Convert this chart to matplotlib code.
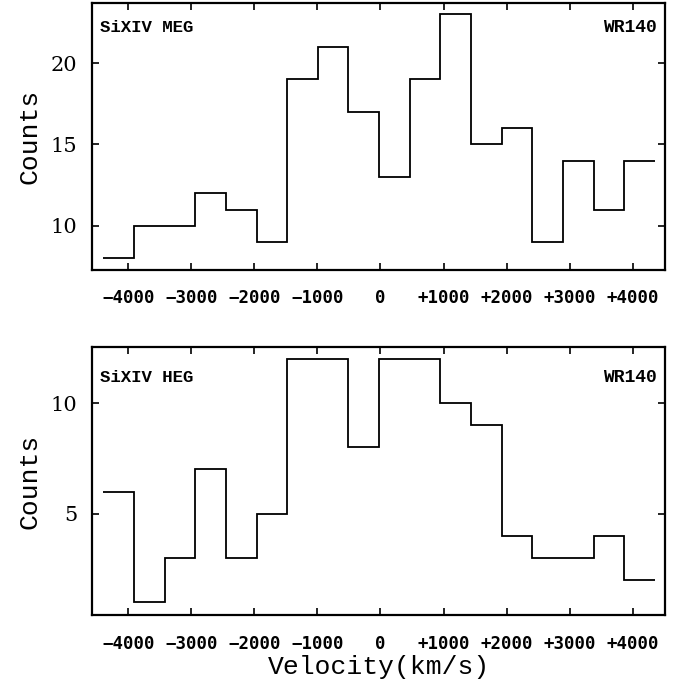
"""Si XIV line profiles of WR140 (MEG and HEG) as step histograms."""

import matplotlib

matplotlib.use("Agg")
import matplotlib.pyplot as plt

# bin edges in km/s
bin_edges = [-4396, -3910, -3424, -2938, -2452, -1966, -1480, -994, -508, -22,
             464, 950, 1436, 1922, 2408, 2894, 3380, 3866, 4352]
meg_counts = [8, 10, 10, 12, 11, 9, 19, 21, 17, 13, 19, 23, 15, 16, 9, 14, 11, 14]
heg_counts = [6, 1, 3, 7, 3, 5, 12, 12, 8, 12, 12, 10, 9, 4, 3, 3, 4, 2]

x_ticks = [-4000, -3000, -2000, -1000, 0, 1000, 2000, 3000, 4000]
x_ticklabels = ["\u22124000", "\u22123000", "\u22122000", "\u22121000", "0",
                "+1000", "+2000", "+3000", "+4000"]
meg_yticks = [10, 15, 20]
heg_yticks = [5, 10]

panels = [
    ("SiXIV MEG", meg_counts, meg_yticks, (7.3, 23.7),
     [0.135, 0.610, 0.837, 0.386], 0.909),
    ("SiXIV HEG", heg_counts, heg_yticks, (0.4, 12.56),
     [0.135, 0.111, 0.837, 0.388], 0.887),
]

fig = plt.figure(figsize=(6.84, 6.92), dpi=100)
mono = "Liberation Mono"
serif = "DejaVu Serif"

for name, counts, yticks, ylim, rect, label_y in panels:
    ax = fig.add_axes(rect)
    ax.stairs(counts, bin_edges, baseline=None, color="black", linewidth=1.3)
    ax.set_xlim(-4570, 4510)
    ax.set_ylim(*ylim)
    ax.set_xticks(x_ticks)
    ax.set_xticklabels(x_ticklabels, family="DejaVu Sans Mono",
                       fontweight="bold", fontsize=12.5)
    ax.set_yticks(yticks)
    ax.set_yticklabels([str(t) for t in yticks], family=serif, fontsize=15)
    ax.tick_params(direction="in", top=True, right=True, length=5, width=1.2)
    ax.tick_params(axis="x", pad=14)
    ax.tick_params(axis="y", pad=11)
    for spine in ax.spines.values():
        spine.set_linewidth(1.6)
    ax.set_ylabel("Counts", family=mono, fontsize=19, labelpad=6)
    ax.text(0.014, label_y, name, transform=ax.transAxes, family=mono,
            fontweight="bold", fontsize=12.5, va="center", ha="left")
    ax.text(0.986, label_y, "WR140", transform=ax.transAxes, family=mono,
            fontweight="bold", fontsize=13, va="center", ha="right")

ax.set_xlabel("Velocity(km/s)", family=mono, fontsize=19, labelpad=2)

fig.savefig("out.png", dpi=100)
